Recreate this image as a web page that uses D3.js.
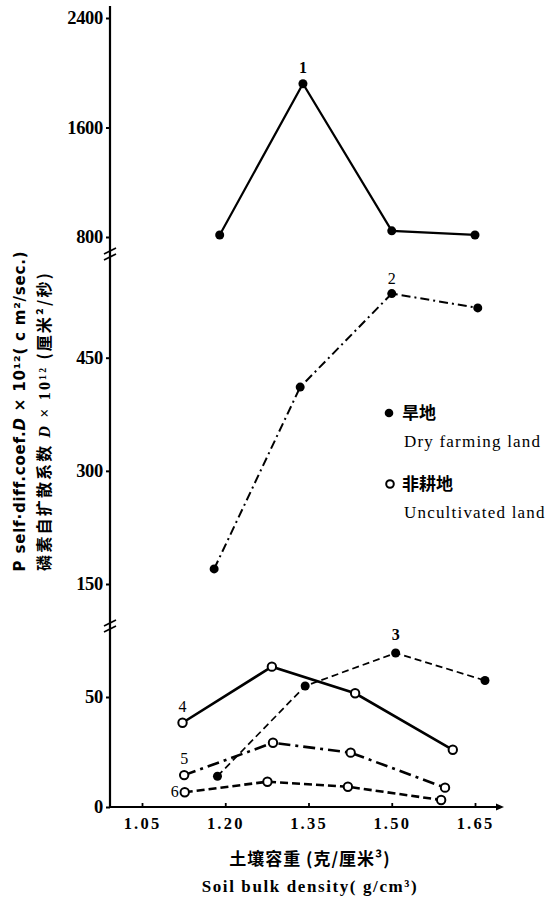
<!DOCTYPE html>
<html>
<head>
<meta charset="utf-8">
<script src="https://cdn.jsdelivr.net/npm/d3@7"></script>
<style>
body { margin: 0; background: #fff; }
svg { display: block; }
</style>
</head>
<body>
<svg id="chart" width="559" height="898"></svg>
<script>
// tick values
const X_TICKS = [1.05, 1.20, 1.35, 1.50, 1.65];
const Y_TICKS_TOP = [800, 1600, 2400];
const Y_TICKS_MID = [150, 300, 450];
const Y_TICKS_BOT = [0, 50];

// curves 1-3 dry farming land, 4-6 uncultivated land
const CURVE_IDS = ["1", "2", "3", "4", "5", "6"];
const CURVE_LAND = ["dry", "dry", "dry", "uncultivated", "uncultivated", "uncultivated"];
const CURVE_PANEL = ["top", "mid", "bot", "bot", "bot", "bot"];

const BULK_1 = [1.19, 1.34, 1.50, 1.65];
const COEF_1 = [815, 1920, 845, 815];
const BULK_2 = [1.18, 1.335, 1.50, 1.655];
const COEF_2 = [170, 411, 535, 516];
const BULK_3 = [1.186, 1.344, 1.507, 1.668];
const COEF_3 = [14, 55, 70, 57.5];
const BULK_4 = [1.123, 1.284, 1.434, 1.61];
const COEF_4 = [38.3, 63.8, 51.7, 26];
const BULK_5 = [1.126, 1.286, 1.426, 1.596];
const COEF_5 = [14.5, 29.2, 24.7, 8.8];
const BULK_6 = [1.127, 1.276, 1.421, 1.589];
const COEF_6 = [6.7, 11.5, 9.2, 3.2];

const BULK = [BULK_1, BULK_2, BULK_3, BULK_4, BULK_5, BULK_6];
const COEF = [COEF_1, COEF_2, COEF_3, COEF_4, COEF_5, COEF_6];

// drawing styles per curve
const CURVE_STYLE = {
    "1": {"dash": null, "width": 2.2, "labelAt": 1, "dx": 0, "dy": -11},
    "2": {"dash": "9,4,2,4", "width": 2, "labelAt": 2, "dx": 0, "dy": -10},
    "3": {"dash": "7,4", "width": 1.7, "labelAt": 2, "dx": 0, "dy": -13},
    "4": {"dash": null, "width": 2.6, "labelAt": 0, "dx": 0, "dy": -11},
    "5": {"dash": "12,5,3,5", "width": 2.6, "labelAt": 0, "dx": 0, "dy": -11},
    "6": {"dash": "8,4", "width": 2.6, "labelAt": 0, "dx": -10, "dy": 5},
};

const SERIF = '"Liberation Serif", "DejaVu Serif", serif';
const CJK = '"Noto Sans CJK SC", sans-serif';

var svg = d3.select("svg#chart");

function build_chart() {
    const AXIS_X = 110;
    const AXIS_Y = 807;

    var x = d3.scaleLinear().domain([1.05, 1.65]).range([142, 475]);
    var y_scales = {
        "top": d3.scaleLinear().domain([800, 2400]).range([237, 18]),
        "mid": d3.scaleLinear().domain([150, 450]).range([584, 357.7]),
        "bot": d3.scaleLinear().domain([0, 50]).range([AXIS_Y, 697])
    };

    // y axis line (continuous, with break marks)
    svg.append("line")
        .attr("x1", AXIS_X).attr("x2", AXIS_X)
        .attr("y1", 6).attr("y2", AXIS_Y)
        .attr("stroke", "#000").attr("stroke-width", 2.2);

    [254, 626].forEach(function(by) {
        [-3, 3].forEach(function(off) {
            svg.append("line")
                .attr("x1", AXIS_X - 6).attr("y1", by + off + 3)
                .attr("x2", AXIS_X + 6).attr("y2", by + off - 3)
                .attr("stroke", "#000").attr("stroke-width", 1.8);
        });
    });

    // y ticks for the three panels
    [["top", Y_TICKS_TOP], ["mid", Y_TICKS_MID], ["bot", Y_TICKS_BOT]].forEach(function(p) {
        var g = svg.append("g")
            .attr("transform", "translate(" + AXIS_X + ",0)")
            .call(d3.axisLeft(y_scales[p[0]]).tickValues(p[1]).tickSize(4).tickPadding(3).tickFormat(d3.format("d")));
        g.select(".domain").remove();
        g.selectAll("line").attr("stroke-width", 2);
        g.selectAll("text")
            .attr("font-family", SERIF)
            .attr("font-weight", "bold")
            .attr("font-size", 18.5)
            .attr("letter-spacing", -0.3)
            .attr("fill", "#000");
    });

    // x axis
    var gx = svg.append("g")
        .attr("transform", "translate(0," + AXIS_Y + ")")
        .call(d3.axisBottom(x).tickValues(X_TICKS).tickSize(-4).tickPadding(10).tickFormat(d3.format(".2f")));
    gx.select(".domain").remove();
    gx.selectAll("line").attr("stroke-width", 1.8);
    gx.selectAll("text")
        .attr("font-family", SERIF)
        .attr("font-weight", "bold")
        .attr("font-size", 16.5)
        .attr("letter-spacing", 2.2)
        .attr("fill", "#000");

    svg.append("line")
        .attr("x1", AXIS_X).attr("x2", 498)
        .attr("y1", AXIS_Y).attr("y2", AXIS_Y)
        .attr("stroke", "#000").attr("stroke-width", 2.2);
    svg.append("path")
        .attr("d", d3.line()([[496, AXIS_Y - 3.5], [504, AXIS_Y], [496, AXIS_Y + 3.5]]) + "Z")
        .attr("fill", "#000");

    // curves
    CURVE_IDS.forEach(function(id, i) {
        var ys = y_scales[CURVE_PANEL[i]];
        var style = CURVE_STYLE[id];
        var pts = BULK[i].map((b, j) => [x(b), ys(COEF[i][j])]);

        svg.append("path")
            .attr("d", d3.line()(pts))
            .attr("fill", "none")
            .attr("stroke", "#000")
            .attr("stroke-width", style.width)
            .attr("stroke-dasharray", style.dash);

        var dry = CURVE_LAND[i] == "dry";
        svg.selectAll(null)
            .data(pts)
            .enter().append("circle")
            .attr("cx", d => d[0])
            .attr("cy", d => d[1])
            .attr("r", dry ? 4.5 : 4.2)
            .attr("fill", dry ? "#000" : "#fff")
            .attr("stroke", "#000")
            .attr("stroke-width", dry ? 0 : 2);

        var lp = pts[style.labelAt];
        svg.append("text")
            .attr("x", lp[0] + style.dx)
            .attr("y", lp[1] + style.dy)
            .attr("text-anchor", "middle")
            .attr("font-family", SERIF)
            .attr("font-weight", id == "3" || id == "1" ? "bold" : "normal")
            .attr("font-size", 16)
            .text(id);
    });

    addLegend();
    addTitles();
}

function addLegend() {
    var lg = svg.append("g");
    lg.append("circle").attr("cx", 389).attr("cy", 413).attr("r", 4.3).attr("fill", "#000");
    lg.append("text").attr("x", 402).attr("y", 419)
        .attr("font-family", CJK).attr("font-weight", "bold").attr("font-size", 17)
        .text("旱地");
    lg.append("text").attr("x", 404).attr("y", 447)
        .attr("font-family", SERIF).attr("font-size", 17).attr("letter-spacing", 1.2)
        .text("Dry farming land");

    lg.append("circle").attr("cx", 390).attr("cy", 484).attr("r", 3.8)
        .attr("fill", "#fff").attr("stroke", "#000").attr("stroke-width", 2);
    lg.append("text").attr("x", 402).attr("y", 490)
        .attr("font-family", CJK).attr("font-weight", "bold").attr("font-size", 17)
        .text("非耕地");
    lg.append("text").attr("x", 404).attr("y", 518)
        .attr("font-family", SERIF).attr("font-size", 17).attr("letter-spacing", 1.2)
        .text("Uncultivated land");
}

function addTitles() {
    // y title, two rotated lines
    var t1 = svg.append("text")
        .attr("transform", "translate(25,411) rotate(-90)")
        .attr("text-anchor", "middle")
        .attr("font-family", '"DejaVu Sans", sans-serif')
        .attr("font-weight", "bold")
        .attr("font-size", 15)
        .attr("letter-spacing", 0.8);
    t1.append("tspan").text("P self·diff.coef.");
    t1.append("tspan").attr("font-style", "italic").text("D");
    t1.append("tspan").text(" × 10¹²( c m²/sec.)");

    var t2 = svg.append("text")
        .attr("transform", "translate(50,421) rotate(-90)")
        .attr("text-anchor", "middle")
        .attr("font-family", CJK)
        .attr("font-weight", "bold")
        .attr("font-size", 16)
        .attr("letter-spacing", 2.2);
    t2.append("tspan").text("磷素自扩散系数 ");
    t2.append("tspan").attr("font-family", SERIF).attr("font-style", "italic").text("D");
    t2.append("tspan").attr("font-family", SERIF).text(" × 10¹² ");
    t2.append("tspan").text("(厘米²/秒)");

    // x title
    svg.append("text")
        .attr("x", 310).attr("y", 865)
        .attr("text-anchor", "middle")
        .attr("font-family", CJK)
        .attr("font-weight", "bold")
        .attr("font-size", 17)
        .attr("letter-spacing", 1)
        .text("土壤容重 (克/厘米³)");
    svg.append("text")
        .attr("x", 310).attr("y", 892)
        .attr("text-anchor", "middle")
        .attr("font-family", SERIF)
        .attr("font-weight", "bold")
        .attr("font-size", 17)
        .attr("letter-spacing", 1.6)
        .text("Soil bulk density( g/cm³)");
}

build_chart();
</script>
</body>
</html>
